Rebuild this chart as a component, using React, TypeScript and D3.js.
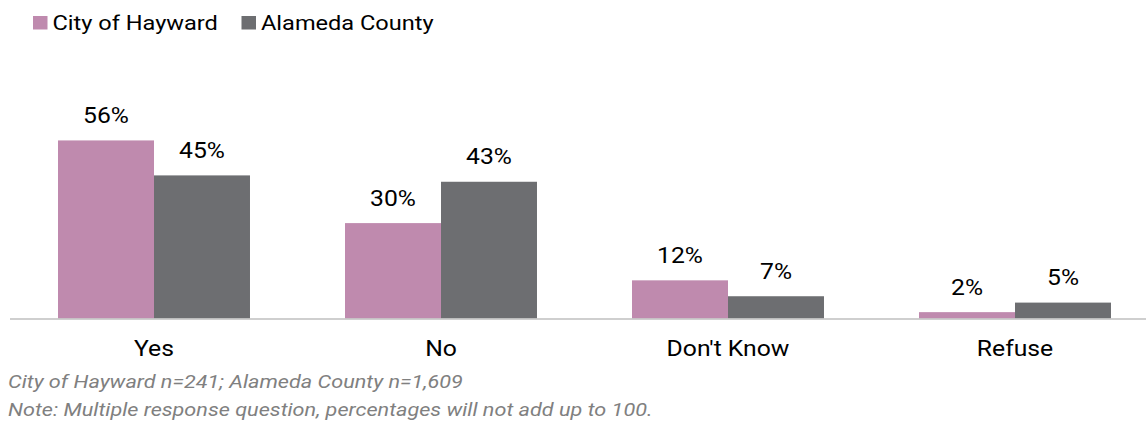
import React from "react";
import * as d3 from "d3";

const categories = ["Yes", "No", "Don't Know", "Refuse"];
const seriesNames = ["City of Hayward", "Alameda County"];
const hayward = [0.56, 0.30, 0.12, 0.02];
const alameda = [0.45, 0.43, 0.07, 0.05];
const colors = ["#BF8AAE", "#6D6E71"];
const notes = [
  "City of Hayward n=241; Alameda County n=1,609",
  "Note: Multiple response question, percentages will not add up to 100.",
];

const W = 1146;
const H = 423;
const FONT = "Roboto, 'Open Sans', sans-serif";
const SX = 1.15;

function T(props: {
  x: number;
  y: number;
  size: number;
  anchor?: string;
  italic?: boolean;
  fill?: string;
  sx?: number;
  children: React.ReactNode;
}) {
  return (
    <text
      transform={`translate(${props.x},${props.y}) scale(${props.sx || SX},1)`}
      textAnchor={props.anchor || "start"}
      fontSize={props.size}
      fontStyle={props.italic ? "italic" : "normal"}
      fill={props.fill || "#000"}
    >
      {props.children}
    </text>
  );
}

export default function App() {
  const values = [hayward, alameda];
  const x0 = d3.scaleBand<string>().domain(categories).range([10.5, 1158.5]);
  const x1 = d3
    .scaleBand<string>()
    .domain(seriesNames)
    .range([0, x0.step()])
    .paddingInner(0)
    .paddingOuter(0.495);
  const y = d3.scaleLinear().domain([0, 1]).range([318.5, 0.5]);
  const fmt = d3.format(".0%");

  const legendX = [33, 241.5];

  return (
    <svg
      width={W}
      height={H}
      style={{ position: "absolute", left: 0, top: 0, background: "#fff" }}
      fontFamily={FONT}
    >
      {seriesNames.map((s, i) => (
        <g key={s}>
          <rect x={legendX[i]} y={16} width={14.5} height={13.5} fill={colors[i]} />
          <T x={legendX[i] + 19.5} y={29.5} size={20.5}>
            {s}
          </T>
        </g>
      ))}

      {categories.map((c, ci) => (
        <g key={c} transform={`translate(${x0(c)},0)`}>
          {seriesNames.map((s, si) => {
            const v = values[si][ci];
            const bx = x1(s)!;
            const bw = x1.bandwidth();
            return (
              <g key={s}>
                <rect x={bx} y={y(v)} width={bw} height={y(0) - y(v)} fill={colors[si]} />
                <T x={bx + bw / 2} y={y(v) - 17.5} anchor="middle" size={21.5}>
                  {fmt(v)}
                </T>
              </g>
            );
          })}
          <T x={x0.step() / 2} y={356} anchor="middle" size={21.5}>
            {c}
          </T>
        </g>
      ))}

      <line x1={10} x2={W} y1={319} y2={319} stroke="#BFBFBF" strokeWidth={1.5} />

      {notes.map((n, i) => (
        <T key={i} x={8} y={388 + i * 28} size={18.5} sx={1.17} italic fill="#808080">
          {n}
        </T>
      ))}
    </svg>
  );
}
